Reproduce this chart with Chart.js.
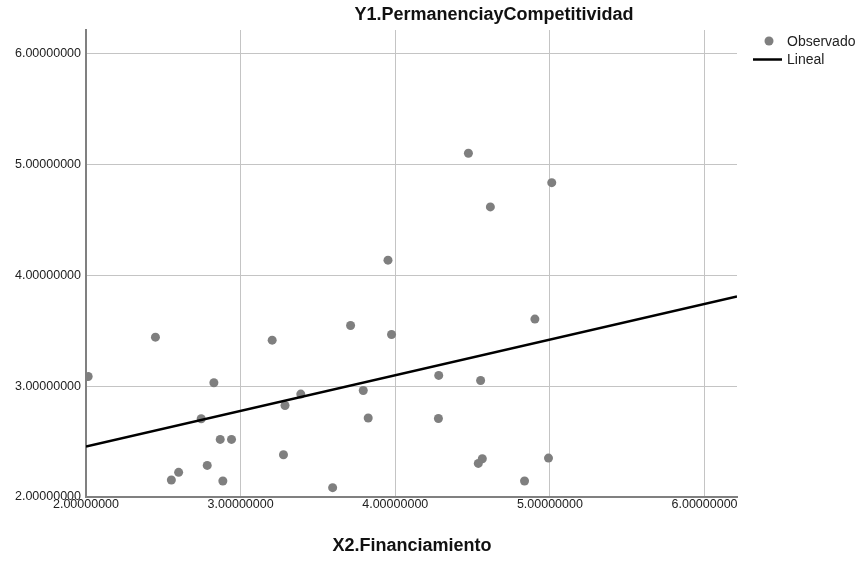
<!DOCTYPE html>
<html>
<head>
<meta charset="utf-8">
<script src="https://cdn.jsdelivr.net/npm/chart.js@4/dist/chart.umd.min.js"></script>
<style>
  html, body { margin: 0; padding: 0; background: #ffffff; }
  #c { display: block; }
</style>
</head>
<body>
<canvas id="c" width="858" height="561"></canvas>
<script>
// ---- Data ----
const chartTitle = "Y1.PermanenciayCompetitividad";
const xAxisTitle = "X2.Financiamiento";
const legendLabels = ["Observado", "Lineal"];
const tickValues = [2, 3, 4, 5, 6];

const obsX = [2.014, 2.449, 2.827, 2.745, 2.868, 2.941, 2.784, 2.599, 2.552, 2.885,
              3.204, 3.389, 3.287, 3.277, 3.595, 3.711, 3.976, 3.793, 3.825, 3.953,
              4.281, 4.279, 4.552, 4.903, 4.563, 4.537, 4.991, 4.836, 4.473, 5.012, 4.615];
const obsY = [3.086, 3.441, 3.030, 2.705, 2.519, 2.519, 2.285, 2.222, 2.153, 2.144,
              3.414, 2.928, 2.825, 2.381, 2.084, 3.546, 3.465, 2.960, 2.712, 4.135,
              3.096, 2.708, 3.050, 3.604, 2.345, 2.303, 2.351, 2.144, 5.099, 4.834, 4.615];

// Fit line end points as drawn in the reference
const fitX = [2.0, 6.21];
const fitY = [2.456, 3.807];

// ---- Build datasets ----
const obsPoints = obsX.map((x, i) => ({ x: x, y: obsY[i] }));
const fitPoints = fitX.map((x, i) => ({ x: x, y: fitY[i] }));

const FONT = "'Liberation Sans', Arial, sans-serif";
const POINT_COLOR = "#7f7f7f";

const overlayPlugin = {
  id: "overlay",
  afterDraw(chart) {
    const ctx = chart.ctx;
    ctx.save();
    ctx.fillStyle = "#111";
    ctx.textBaseline = "middle";
    // chart title
    ctx.font = "bold 18px " + FONT;
    ctx.textAlign = "center";
    ctx.fillText(chartTitle, 494, 15);
    // x axis title
    ctx.fillText(xAxisTitle, 412, 546);
    // legend
    ctx.font = "14px " + FONT;
    ctx.textAlign = "left";
    ctx.beginPath();
    ctx.arc(769, 41, 4.5, 0, Math.PI * 2);
    ctx.fillStyle = POINT_COLOR;
    ctx.fill();
    ctx.fillStyle = "#222";
    ctx.fillText(legendLabels[0], 787, 42);
    ctx.beginPath();
    ctx.moveTo(753, 59.5);
    ctx.lineTo(782, 59.5);
    ctx.strokeStyle = "#000";
    ctx.lineWidth = 2.5;
    ctx.stroke();
    ctx.fillText(legendLabels[1], 787, 60);
    ctx.restore();
  }
};

const tickFilter = (scale) => {
  scale.ticks = tickValues.map(v => ({ value: v }));
};

new Chart(document.getElementById("c"), {
  type: "scatter",
  data: {
    datasets: [
      {
        label: legendLabels[0],
        data: obsPoints,
        backgroundColor: POINT_COLOR,
        borderColor: POINT_COLOR,
        pointRadius: 4.5,
        pointHoverRadius: 4.5,
        borderWidth: 0,
        order: 2
      },
      {
        type: "line",
        label: legendLabels[1],
        data: fitPoints,
        borderColor: "#000000",
        borderWidth: 2.5,
        pointRadius: 0,
        fill: false,
        tension: 0,
        order: 1
      }
    ]
  },
  options: {
    responsive: false,
    animation: false,
    events: [],
    layout: { padding: { left: 0, top: 30, right: 121, bottom: 34 } },
    plugins: {
      legend: { display: false },
      title: { display: false },
      tooltip: { enabled: false }
    },
    scales: {
      x: {
        type: "linear",
        position: "bottom",
        min: 2,
        max: 6.21,
        afterBuildTicks: tickFilter,
        afterFit: (s) => { s.height = 30; },
        ticks: {
          stepSize: 1,
          includeBounds: false,
          autoSkip: false,
          maxRotation: 0,
          padding: 0,
          color: "#222",
          font: { family: FONT, size: 12.5 },
          callback: (v) => Number(v).toFixed(8)
        },
        grid: { color: "#c4c4c4", lineWidth: 1, drawTicks: false },
        border: { color: "#808080", width: 2 }
      },
      y: {
        type: "linear",
        min: 2,
        max: 6.21,
        afterBuildTicks: tickFilter,
        afterFit: (s) => { s.width = 86; },
        ticks: {
          stepSize: 1,
          includeBounds: false,
          autoSkip: false,
          padding: 5,
          color: "#222",
          font: { family: FONT, size: 12.5 },
          callback: (v) => Number(v).toFixed(8)
        },
        grid: { color: "#c4c4c4", lineWidth: 1, drawTicks: false },
        border: { color: "#808080", width: 2 }
      }
    }
  },
  plugins: [overlayPlugin]
});
</script>
</body>
</html>
